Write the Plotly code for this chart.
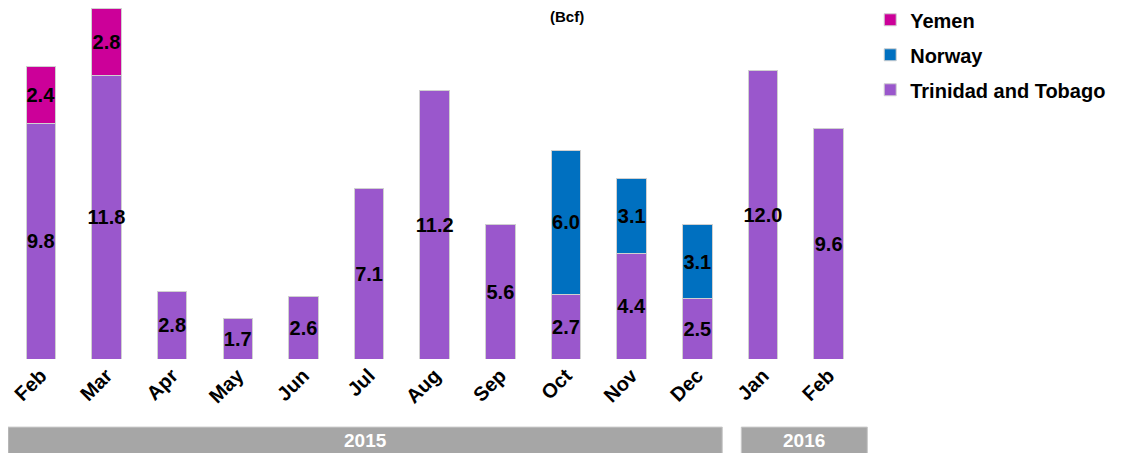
import plotly.graph_objects as go

months = ["Feb", "Mar", "Apr", "May", "Jun", "Jul", "Aug", "Sep", "Oct", "Nov", "Dec", "Jan", "Feb"]
years = ["2015"] * 11 + ["2016"] * 2
trinidad = [9.8, 11.8, 2.8, 1.7, 2.6, 7.1, 11.2, 5.6, 2.7, 4.4, 2.5, 12.0, 9.6]
norway = [None, None, None, None, None, None, None, None, 6.0, 3.1, 3.1, None, None]
yemen = [2.4, 2.8, None, None, None, None, None, None, None, None, None, None, None]

series = [
    ("Trinidad and Tobago", trinidad, "#9a57cc", 3),
    ("Norway", norway, "#0070c0", 2),
    ("Yemen", yemen, "#cc0099", 1),
]

FONT = "Arial, Liberation Sans, sans-serif"
x = list(range(len(months)))

fig = go.Figure()
for name, vals, color, rank in series:
    fig.add_trace(go.Bar(
        x=x, y=vals, name=name, legendgroup=name, legendrank=rank,
        marker=dict(color=color, line=dict(color="#d0d0d0", width=1)),
        text=[f"{v:.1f}" if v is not None else "" for v in vals],
        textposition="inside", insidetextanchor="middle", constraintext="none",
        textangle=0,
        textfont=dict(family=FONT, size=20, color="black", weight="bold"),
        hoverinfo="skip",
    ))

shapes = []
annotations = []
for yr in ["2015", "2016"]:
    idx = [i for i, y in enumerate(years) if y == yr]
    if yr == "2015":
        x0, x1 = idx[0] - 0.5, idx[-1] + 0.38
    else:
        x0, x1 = idx[0] - 0.33, idx[-1] + 0.59
    shapes.append(dict(type="rect", xref="x", yref="paper", x0=x0, x1=x1,
                       y0=-0.32, y1=-0.194, fillcolor="#a6a6a6",
                       line=dict(color="#c8c8c8", width=1), layer="below"))
    annotations.append(dict(xref="x", yref="paper", x=(x0 + x1) / 2, y=-0.232,
                            yanchor="middle",
                            text=yr, showarrow=False,
                            font=dict(family=FONT, size=19, color="white", weight="bold")))

annotations.append(dict(xref="paper", yref="paper", x=0.65, y=1, yanchor="top",
                        yshift=2, text="(Bcf)", showarrow=False,
                        font=dict(family=FONT, size=15, color="black", weight="bold")))

fig.update_layout(
    barmode="stack",
    bargap=0.55,
    width=1133, height=453,
    margin=dict(l=0, r=273, t=0, b=102, autoexpand=False),
    plot_bgcolor="rgba(0,0,0,0)", paper_bgcolor="white",
    xaxis=dict(range=[-0.5, 12.6], tickmode="array", tickvals=x, ticktext=months,
               tickangle=-45, showgrid=False, zeroline=False, showline=False,
               automargin=False,
               ticks="", tickfont=dict(family=FONT, size=20, color="black", weight="bold")),
    yaxis=dict(range=[0, 14.62], visible=False, automargin=False),
    showlegend=True,
    legend=dict(xref="container", yref="paper", x=0.761, y=1.022,
                xanchor="left", yanchor="top", traceorder="grouped",
                tracegroupgap=6,
                font=dict(family=FONT, size=20, color="black", weight="bold")),
    shapes=shapes,
    annotations=annotations,
)

fig.write_html("out.html")
